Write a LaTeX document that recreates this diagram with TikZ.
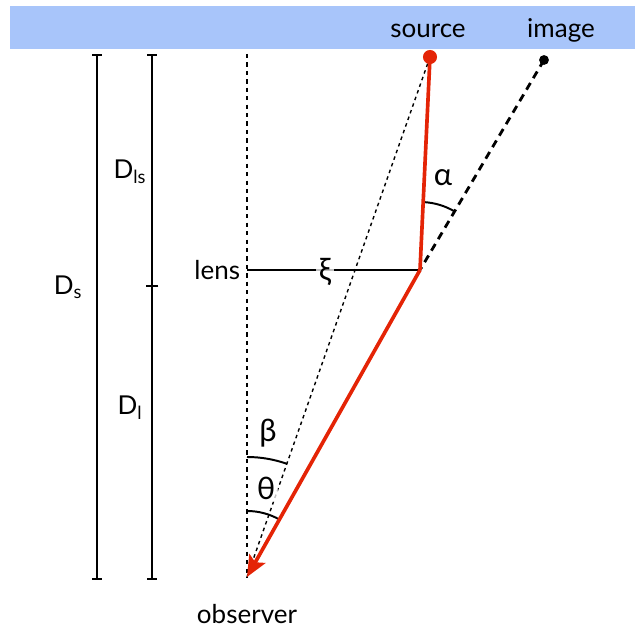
\documentclass[tikz,border=0pt]{standalone}
\usepackage{fontspec}
\setmainfont{Lato}
\usepackage{tikz}
\usetikzlibrary{arrows.meta, positioning, calc}

\definecolor{bandblue}{RGB}{168,197,250}
\definecolor{raycolor}{RGB}{228,36,6}

\begin{document}
\begin{tikzpicture}[
    font=\fontsize{18.5}{22}\selectfont,
    axis/.style={line width=1pt, dash pattern=on 3pt off 3pt},
    thinray/.style={line width=1pt, dash pattern=on 2.5pt off 2.5pt},
    imgray/.style={line width=2pt, dash pattern=on 5.5pt off 4pt},
    ray/.style={line width=2.6pt, draw=raycolor},
    anglearc/.style={line width=1.4pt},
    greek/.style={font=\fontsize{22}{24}\selectfont},
    lbl/.style={fill=white, fill opacity=0.75, text opacity=1, inner sep=2pt}
]
\useasboundingbox (0,0) rectangle (15.875,15.8);

% Source plane band
\fill[bandblue] (0.25,14.575) rectangle (15.875,15.65);

% Key points
\coordinate (src) at (10.75,14.375);
\coordinate (img) at (13.6,14.3);
\coordinate (lenspt) at (10.5,9.05);
\coordinate (axlens) at (6.175,9.05);
\coordinate (axtop) at (6.175,14.45);
\coordinate (obs) at (6.175,1.375);

% Distance bars
\coordinate (ds_top) at (2.425,14.45);
\coordinate (ds_bot) at (2.425,1.3);
\coordinate (dl_top) at (3.8,14.45);
\coordinate (dl_mid) at (3.8,8.625);
\coordinate (dl_bot) at (3.8,1.3);

\draw[line width=1.4pt, {Bar[width=7pt]}-{Bar[width=7pt]}] (ds_top) -- (ds_bot);
\draw[line width=1.4pt, {Bar[width=7pt]}-{Bar[width=9pt]}] (dl_top) -- (dl_mid);
\draw[line width=1.4pt, -{Bar[width=7pt]}] (dl_mid) -- (dl_bot);

\node (ds_lbl) at (1.7,8.625) {D\textsubscript{s}};
\node (dls_lbl) at (3.25,11.5) {D\textsubscript{ls}};
\node (dl_lbl) at (3.25,5.6) {D\textsubscript{l}};

% Optical axis and lens plane
\draw[axis] (axtop) -- (obs);
\draw[line width=1.2pt] (axlens) -- (lenspt);
\node[left=0.05cm of axlens] (lens_lbl) {lens};

% Unlensed direction
\draw[thinray] (src) -- (obs);

% Image direction
\draw[imgray] (img) -- (lenspt);

% Angles
\draw[anglearc] ($(obs)+(90:3)$) arc[start angle=90, end angle=70.5, radius=3];
\draw[anglearc] ($(obs)+(90:1.65)$) arc[start angle=90, end angle=60.5, radius=1.65];
\draw[anglearc] ($(lenspt)+(87:1.7)$) arc[start angle=87, end angle=59.5, radius=1.7];

% Deflected ray
\draw[ray] (src) -- (lenspt);
\draw[ray, -{Stealth[length=15pt, width=13pt, inset=3pt]}] (lenspt) -- (obs);

\fill[raycolor] (src) circle (5pt);
\fill[black] (img) circle (3.5pt);

% Labels
\node[lbl, greek] (xi_lbl) at (8.125,9.0) {ξ};
\node[greek] (alpha_lbl) at (11.075,11.35) {α};
\node[greek] (beta_lbl) at (6.7,4.975) {β};
\node[lbl, greek] (theta_lbl) at (6.65,3.6) {θ};
\node (src_lbl) at (10.7,15.03) {source};
\node (img_lbl) at (14.025,15.03) {image};
\node[below=0.55cm of obs] (obs_lbl) {observer};

\end{tikzpicture}
\end{document}
